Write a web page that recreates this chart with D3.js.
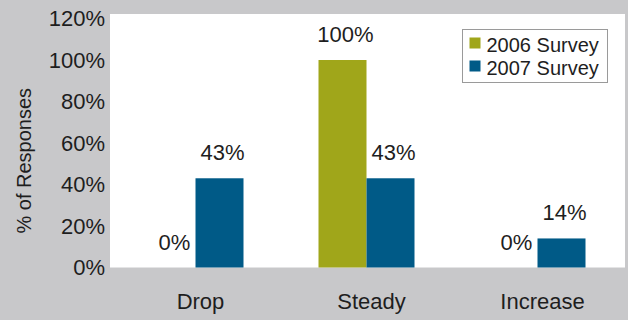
<!DOCTYPE html>
<html>
<head>
<meta charset="utf-8">
<script src="https://cdn.jsdelivr.net/npm/d3@7"></script>
<style>
  html, body { margin: 0; padding: 0; background: #c8c8ca; }
  svg { display: block; font-family: "Liberation Sans", Arial, Helvetica, sans-serif; }
</style>
</head>
<body>
<svg id="chart" width="628" height="320"></svg>
<script>
// Survey outlook by category
const categories = ["Drop", "Steady", "Increase"];
const seriesNames = ["2006 Survey", "2007 Survey"];
const survey2006 = [0, 100, 0];
const survey2007 = [43, 43, 14];
const yTicks = [0, 20, 40, 60, 80, 100, 120];
const seriesColors = ["#a0a61a", "#005a87"];

const W = 628, H = 320;
const plot = { left: 110, right: 625, top: 14, bottom: 267.5 };
const textColor = "#1e1e1e";

const svg = d3.select("#chart");

// background and white plotting area
svg.append("rect").attr("width", W).attr("height", H).attr("fill", "#c8c8ca");
svg.append("rect")
  .attr("x", plot.left).attr("y", plot.top)
  .attr("width", plot.right - plot.left).attr("height", plot.bottom - plot.top)
  .attr("fill", "#ffffff");

const y = d3.scaleLinear().domain([0, 120]).range([plot.bottom, 18.5]);

const x0 = d3.scaleBand()
  .domain(categories)
  .range([plot.left, plot.right - 2])
  .paddingInner(0.4386)
  .paddingOuter(0.2193);

const x1 = d3.scaleBand()
  .domain(seriesNames)
  .range([0, x0.bandwidth()]);

const rows = categories.map((c, i) => ({
  category: c,
  values: [survey2006[i], survey2007[i]].map((v, j) => ({ series: seriesNames[j], value: v, color: seriesColors[j] }))
}));

// y axis labels (no axis line / ticks)
const yAxis = d3.axisLeft(y).tickValues(yTicks).tickFormat(d => d + "%").tickSize(0).tickPadding(5);
const yg = svg.append("g").attr("transform", `translate(${plot.left},0)`).call(yAxis);
yg.select(".domain").remove();
yg.selectAll("text")
  .attr("font-size", 22)
  .attr("font-family", "Liberation Sans, Arial, sans-serif")
  .attr("fill", textColor);

// category labels
const xAxis = d3.axisBottom(x0).tickSize(0).tickPadding(26);
const xg = svg.append("g").attr("transform", `translate(5,${plot.bottom})`).call(xAxis);
xg.select(".domain").remove();
xg.selectAll("text")
  .attr("font-size", 22)
  .attr("font-family", "Liberation Sans, Arial, sans-serif")
  .attr("fill", textColor);

// y axis title
svg.append("text")
  .attr("transform", `translate(31,${(plot.top + plot.bottom) / 2 + 20}) rotate(-90)`)
  .attr("text-anchor", "middle")
  .attr("font-size", 20)
  .attr("fill", textColor)
  .text("% of Responses");

// bars
const groups = svg.append("g").selectAll("g")
  .data(rows).join("g")
  .attr("transform", d => `translate(${x0(d.category)},0)`);

groups.selectAll("rect")
  .data(d => d.values).join("rect")
  .attr("x", d => x1(d.series))
  .attr("width", x1.bandwidth())
  .attr("y", d => y(d.value))
  .attr("height", d => y(0) - y(d.value))
  .attr("fill", d => d.color);

// value labels
groups.selectAll("text.value")
  .data(d => d.values).join("text")
  .attr("class", "value")
  .attr("x", d => x1(d.series) + x1.bandwidth() / 2 + 3)
  .attr("y", d => y(d.value) - 18)
  .attr("text-anchor", "middle")
  .attr("font-size", 22)
  .attr("fill", textColor)
  .text(d => d.value + "%");

// legend
const legend = svg.append("g").attr("transform", "translate(462.5,29.5)");
legend.append("rect")
  .attr("width", 145).attr("height", 53)
  .attr("fill", "#ffffff").attr("stroke", "#9a9a9a").attr("stroke-width", 1);
const items = legend.selectAll("g.item")
  .data(seriesNames).join("g")
  .attr("class", "item")
  .attr("transform", (d, i) => `translate(7,${8 + i * 23})`);
items.append("rect")
  .attr("width", 11).attr("height", 11)
  .attr("fill", (d, i) => seriesColors[i]);
items.append("text")
  .attr("x", 17).attr("y", 14.5)
  .attr("font-size", 20)
  .attr("fill", textColor)
  .text(d => d);
</script>
</body>
</html>
